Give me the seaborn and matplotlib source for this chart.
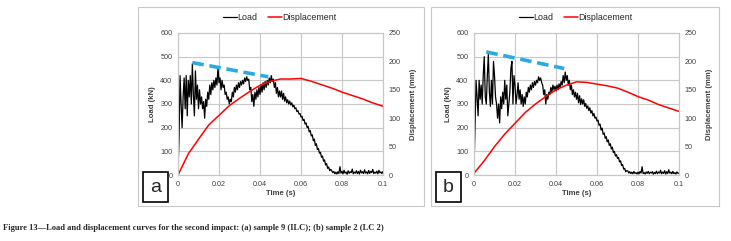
import numpy as np
import pandas as pd
import matplotlib
matplotlib.use("Agg")
import matplotlib.pyplot as plt
import seaborn as sns
from matplotlib.lines import Line2D
from matplotlib.patches import Rectangle

# load sampled every 0.5 ms, 0 .. 0.1 s (one row = 5 ms)
load_a = [
    20, 150, 420, 300, 200, 330, 410, 280, 420, 250,
    400, 330, 420, 300, 470, 340, 250, 440, 320, 380,
    280, 360, 300, 330, 280, 310, 240, 320, 290, 350,
    320, 380, 340, 390, 360, 400, 370, 410, 380, 455,
    390, 410, 360, 400, 370, 380, 340, 350, 320, 330,
    300, 320, 310, 350, 330, 370, 350, 380, 360, 390,
    370, 395, 380, 400, 385, 410, 395, 415, 400, 405,
    360, 370, 310, 340, 290, 350, 320, 360, 330, 370,
    340, 380, 350, 390, 360, 395, 370, 400, 380, 410,
    390, 420, 395, 405, 370, 390, 345, 370, 330, 355,
    330, 355, 320, 345, 312, 330, 305, 318, 300, 312,
    296, 305, 288, 295, 280, 284, 268, 272, 258, 260,
    245, 248, 230, 235, 215, 220, 200, 205, 182, 188,
    165, 170, 145, 152, 125, 132, 108, 112, 92, 96,
    75, 80, 58, 64, 42, 48, 28, 34, 18, 24,
    18, 10, 15, 5, 12, 4, 14, 6, 35, 8,
    15, 5, 20, 8, 12, 3, 18, 7, 14, 10,
    25, 5, 12, 8, 18, 6, 15, 4, 20, 9,
    14, 6, 22, 8, 13, 5, 19, 7, 15, 10,
    24, 6, 12, 8, 16, 5, 20, 9, 13, 6,
    15,
]
load_b = [
    30, 200, 400, 330, 250, 400, 320, 380, 300, 420,
    500, 330, 300, 420, 510, 350, 290, 400, 300, 480,
    420, 330, 300, 240, 300, 220, 330, 280, 350, 300,
    400, 320, 380, 250, 300, 350, 450, 480, 300, 420,
    380, 300, 340, 390, 320, 360, 300, 340, 290, 330,
    300, 350, 330, 370, 350, 380, 360, 390, 370, 395,
    380, 400, 390, 415, 400, 410, 390, 380, 340, 360,
    300, 340, 320, 350, 340, 370, 350, 380, 360, 375,
    355, 380, 360, 385, 370, 395, 380, 420, 390, 435,
    400, 420, 380, 400, 360, 380, 340, 360, 330, 350,
    320, 345, 305, 335, 298, 322, 300, 318, 290, 302,
    282, 292, 272, 284, 262, 272, 250, 260, 240, 245,
    228, 232, 210, 215, 190, 198, 172, 178, 155, 162,
    140, 148, 125, 132, 110, 118, 95, 100, 80, 86,
    70, 74, 55, 60, 40, 44, 25, 28, 14, 18,
    18, 8, 14, 6, 12, 5, 15, 7, 10, 4,
    12, 5, 15, 8, 35, 6, 10, 4, 13, 7,
    15, 5, 12, 8, 14, 3, 11, 6, 16, 5,
    13, 8, 20, 5, 12, 7, 18, 4, 14, 6,
    22, 8, 12, 5, 15, 6, 10, 4, 13, 7,
    8,
]
t_load = np.arange(len(load_a)) * 0.0005

# displacement every 5 ms
t_disp = [0, 0.005, 0.01, 0.015, 0.02, 0.025, 0.03, 0.035, 0.04, 0.045, 0.05,
          0.055, 0.06, 0.065, 0.07, 0.075, 0.08, 0.085, 0.09, 0.095, 0.1]
disp_a = [0, 37, 63, 88, 105, 122, 135, 147, 158, 165, 169,
          169, 170, 165, 159, 153, 146, 140, 134, 127, 121]
disp_b = [3, 25, 50, 72, 91, 110, 125, 138, 150, 158, 164,
          163, 160, 157, 153, 146, 138, 132, 124, 118, 112]

# blue dashed envelope (start / end of peak trend)
peak_a = ([0.007, 0.044], [475, 415])
peak_b = ([0.006, 0.044], [520, 450])

xticks = [0, 0.02, 0.04, 0.06, 0.08, 0.1]
xlabels = ["0", "0.02", "0.04", "0.06", "0.08", "0.1"]

sns.set_style("white")
plt.rcParams["font.family"] = ["Liberation Sans", "DejaVu Sans"]

W, H = 731, 241
fig = plt.figure(figsize=(W / 100, H / 100), dpi=100)
grid_c = "#c8c8c8"
txt_c = "#404040"


def panel(x0, letter, load, disp, peak, frame_x):
    ax = fig.add_axes([x0 / W, 1 - 175 / H, 205 / W, 142 / H])
    ax2 = ax.twinx()
    df_l = pd.DataFrame({"t": t_load, "load": load})
    df_d = pd.DataFrame({"t": t_disp, "disp": disp})
    sns.lineplot(data=df_l, x="t", y="load", ax=ax, color="black", lw=0.9)
    ax.plot(peak[0], peak[1], color="#29aae1", lw=2.6, ls=(0, (3.2, 1.6)),
            solid_capstyle="butt")
    sns.lineplot(data=df_d, x="t", y="disp", ax=ax2, color="red", lw=1.1)
    ax.set_xlim(0, 0.1)
    ax.set_ylim(0, 600)
    ax2.set_ylim(0, 250)
    ax.set_xticks(xticks)
    ax.set_xticklabels(xlabels)
    ax.set_yticks(range(0, 601, 100))
    ax2.set_yticks(range(0, 251, 50))
    ax.grid(True, color=grid_c, lw=0.8)
    for a in (ax, ax2):
        a.tick_params(length=0, labelsize=5.2, colors=txt_c, pad=4)
        for s in a.spines.values():
            s.set_color(grid_c)
            s.set_linewidth(0.8)
    ax.set_xlabel("Time (s)", fontsize=5.6, fontweight="bold", color=txt_c, labelpad=2)
    ax.set_ylabel("Load (kN)", fontsize=5.6, fontweight="bold", color=txt_c, labelpad=3)
    ax2.set_ylabel("Displacement (mm)", fontsize=5.6, fontweight="bold", color=txt_c,
                   labelpad=7)
    handles = [Line2D([], [], color="black", lw=0.9), Line2D([], [], color="red", lw=1.1)]
    ax.legend(handles, ["Load", "Displacement"], loc="center",
              bbox_to_anchor=((x0 + 102) / W, 1 - 18 / H),
              bbox_transform=fig.transFigure, ncol=2, frameon=False, fontsize=6.4,
              handlelength=1.5, handletextpad=0.1, columnspacing=1.2)
    fig.patches.append(Rectangle((frame_x[0] / W, 1 - 206 / H), (frame_x[1] - frame_x[0]) / W,
                                 199 / H, transform=fig.transFigure, fill=False,
                                 ec=grid_c, lw=0.8))
    bx = frame_x[0] + 5
    fig.patches.append(Rectangle((bx / W, 1 - 202 / H), 25 / W, 30 / H,
                                 transform=fig.transFigure, fc="white", ec="black",
                                 lw=1.2, zorder=5))
    fig.text((bx + 12.5) / W, 1 - 188 / H, letter, fontsize=14, ha="center",
             va="center", zorder=6)


panel(178, "a", load_a, disp_a, peak_a, (138, 424))
panel(474, "b", load_b, disp_b, peak_b, (431, 719))

fig.text(3 / W, 1 - 228 / H,
         "Figure 13\u2014Load and displacement curves for the second impact: "
         "(a) sample 9 (ILC); (b) sample 2 (LC 2)",
         fontsize=6.1, fontweight="bold", family=["Liberation Serif", "DejaVu Serif"],
         va="center", ha="left")

fig.savefig("out.png", dpi=100)
